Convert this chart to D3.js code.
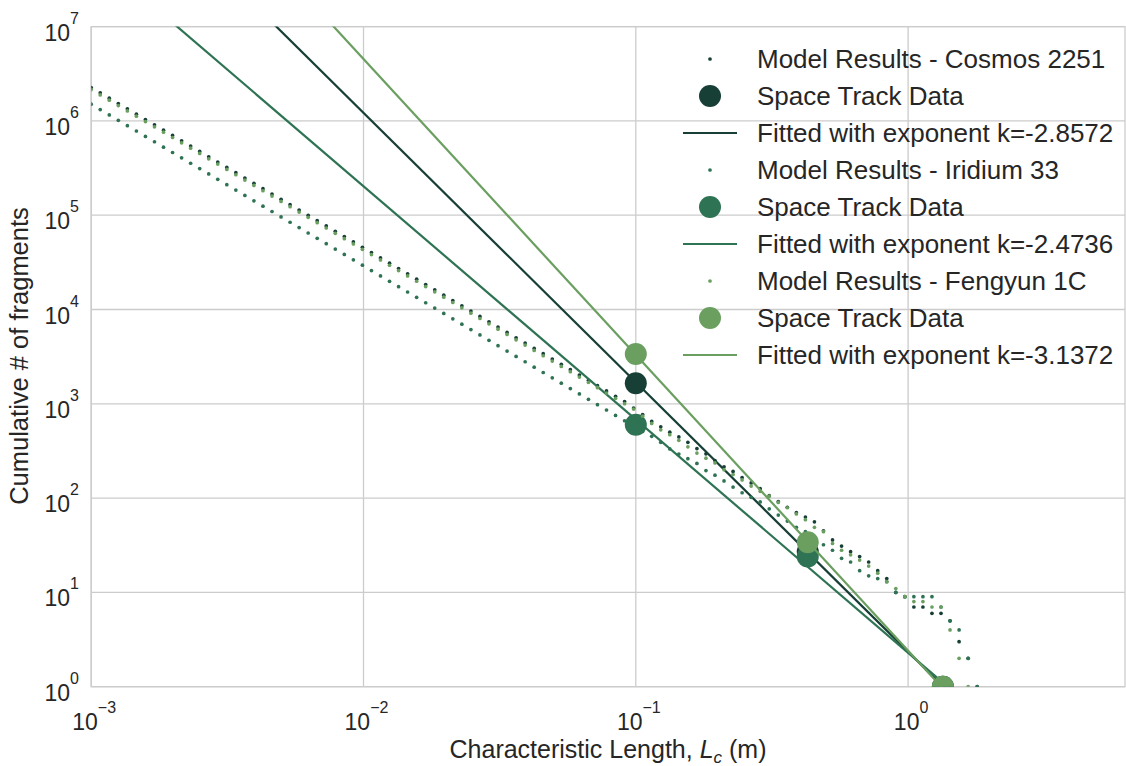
<!DOCTYPE html>
<html>
<head>
<meta charset="utf-8">
<script src="https://cdn.jsdelivr.net/npm/d3@7"></script>
<style>
  body { margin: 0; background: #ffffff; }
  text { font-family: "Liberation Sans", Arial, sans-serif; fill: #262626; }
</style>
</head>
<body>
<svg id="chart" width="1126" height="766"></svg>
<script>
// Sample grid of characteristic lengths (log10 of Lc in metres)
const logLc = [
  -3.0000, -2.9668, -2.9336, -2.9004, -2.8672, -2.8340, -2.8008, -2.7676, -2.7344, -2.7012,
  -2.6680, -2.6348, -2.6016, -2.5684, -2.5352, -2.5020, -2.4688, -2.4356, -2.4024, -2.3692,
  -2.3360, -2.3028, -2.2696, -2.2364, -2.2032, -2.1700, -2.1368, -2.1036, -2.0704, -2.0372,
  -2.0040, -1.9708, -1.9376, -1.9044, -1.8712, -1.8380, -1.8048, -1.7716, -1.7384, -1.7052,
  -1.6720, -1.6388, -1.6056, -1.5724, -1.5392, -1.5060, -1.4728, -1.4396, -1.4064, -1.3732,
  -1.3400, -1.3068, -1.2736, -1.2404, -1.2072, -1.1740, -1.1408, -1.1076, -1.0744, -1.0412,
  -1.0080, -0.9748, -0.9416, -0.9084, -0.8752, -0.8420, -0.8088, -0.7756, -0.7424, -0.7092,
  -0.6760, -0.6428, -0.6096, -0.5764, -0.5432, -0.5100, -0.4768, -0.4436, -0.4104, -0.3772,
  -0.3440, -0.3108, -0.2776, -0.2444, -0.2112, -0.1780, -0.1448, -0.1116, -0.0784, -0.0452,
  -0.0120,  0.0212,  0.0544,  0.0876,  0.1208,  0.1540,  0.1872,  0.2204,  0.2536
];

// Cumulative fragment counts from the breakup model
const cosmosModel = [
  2258000, 1983000, 1741000, 1529000, 1343000, 1179000, 1035000, 909000, 798000, 701000,
  615500, 540700, 474600, 416900, 365900, 321400, 282300, 247800, 217600, 191100,
  167800, 147300, 129400, 113600, 99730, 87590, 76910, 67540, 59300, 52070,
  45730, 40150, 35260, 30960, 27180, 23870, 20960, 18410, 16160, 14200,
  12460, 10950, 9612, 8441, 7412, 6509, 5715, 5018, 4406, 3870,
  3398, 2984, 2620, 2301, 2020, 1774, 1558, 1368, 1201, 1055,
  900, 770, 650, 570, 500, 445, 390, 335, 295, 250,
  215, 192, 165, 145, 126, 106, 92, 80, 70, 63,
  56, 45, 36, 31, 27, 24, 21, 17, 14, 10,
  9, 7, 7, 6, 6, 5, 3, 2, 1
];
const iridiumModel = [
  1503000, 1319000, 1157000, 1015000, 890000, 781000, 685000, 601000, 527000, 462000,
  405500, 355700, 312000, 273700, 240100, 210600, 184800, 162100, 142200, 124700,
  109400, 95960, 84180, 73840, 64770, 56820, 49840, 43720, 38350, 33640,
  29510, 25890, 22710, 19920, 17470, 15330, 13450, 11790, 10350, 9077,
  7962, 6984, 6126, 5374, 4714, 4135, 3627, 3182, 2791, 2448,
  2148, 1884, 1653, 1450, 1272, 1116, 979, 859, 753, 661,
  579, 510, 452, 390, 332, 293, 262, 233, 196, 175,
  152, 131, 114, 102, 91, 77, 66, 57, 49, 44,
  38, 32, 28, 23, 21, 17, 15, 14, 13, 10,
  9, 9, 9, 9, 7, 5, 4, 2, 1
];
const fengyunModel = [
  2148000, 1887000, 1657000, 1455000, 1277000, 1121000, 984800, 864800, 759500, 666900,
  585500, 514300, 451400, 396500, 348100, 305800, 268500, 235800, 207000, 181700,
  159600, 140100, 123000, 108000, 94870, 83310, 73150, 64240, 56400, 49530,
  43490, 38190, 33540, 29450, 25860, 22710, 19940, 17510, 15380, 13500,
  11860, 10410, 9144, 8029, 7050, 6191, 5437, 4774, 4192, 3682,
  3232, 2838, 2492, 2189, 1922, 1688, 1482, 1302, 1143, 1003,
  880, 740, 620, 530, 470, 410, 350, 300, 265, 236,
  200, 178, 156, 134, 118, 105, 90, 79, 68, 59,
  49, 44, 33, 28, 25, 22, 19, 16, 13, 11,
  9, 8, 8, 7, 7, 4, 2, 1
];

// Catalogued debris (Space Track)
const trackLc = [0.1, 0.428, 1.342];
const cosmosTrack = [1650, 27, 1];
const iridiumTrack = [600, 24, 1];
const fengyunTrack = [3370, 34, 1];

// Power-law fits N = C * Lc^k
const fitExponents = [-2.8572, -2.4736, -3.1372];
const fitCoefficients = [2.35, 2.29, 2.41];
const fitRange = [1e-3, 1.342];

const seriesNames = ["Cosmos 2251", "Iridium 33", "Fengyun 1C"];
const seriesColors = ["#173f36", "#2e7353", "#6a9f60"];

const xTicks = [1e-3, 1e-2, 1e-1, 1];
const yTicks = [1, 10, 100, 1e3, 1e4, 1e5, 1e6, 1e7];

const svg = d3.select("#chart");
const plotLeft = 91.2, plotRight = 1125, plotTop = 26.6, plotBottom = 686.7;

const x = d3.scaleLog().domain([1e-3, Math.pow(10, 0.7965)]).range([plotLeft, plotRight]);
const y = d3.scaleLog().domain([1, 1e7]).range([plotBottom, plotTop]);

const gridColor = "#cccccc";

// grid
const grid = svg.append("g");
grid.selectAll(".vx").data(xTicks).join("line")
  .attr("x1", d => x(d)).attr("x2", d => x(d))
  .attr("y1", plotTop).attr("y2", plotBottom)
  .attr("stroke", gridColor).attr("stroke-width", 1.3);
grid.selectAll(".hy").data(yTicks).join("line")
  .attr("x1", plotLeft).attr("x2", plotRight)
  .attr("y1", d => y(d)).attr("y2", d => y(d))
  .attr("stroke", gridColor).attr("stroke-width", 1.3);
svg.append("rect")
  .attr("x", plotLeft).attr("y", plotTop)
  .attr("width", plotRight - plotLeft).attr("height", plotBottom - plotTop)
  .attr("fill", "none").attr("stroke", gridColor).attr("stroke-width", 1.3);

// plot contents clipped to the axes box
svg.append("clipPath").attr("id", "plotClip")
  .append("rect").attr("x", plotLeft).attr("y", plotTop)
  .attr("width", plotRight - plotLeft).attr("height", plotBottom - plotTop);
const plot = svg.append("g").attr("clip-path", "url(#plotClip)");

const models = [cosmosModel, iridiumModel, fengyunModel];
const tracks = [cosmosTrack, iridiumTrack, fengyunTrack];

models.forEach((model, s) => {
  const pts = model.map((n, i) => ({ L: Math.pow(10, logLc[i]), N: n }));
  plot.append("g").selectAll("circle").data(pts).join("circle")
    .attr("cx", d => x(d.L)).attr("cy", d => y(d.N))
    .attr("r", 1.85).attr("fill", seriesColors[s]);

  const tr = tracks[s].map((n, i) => ({ L: trackLc[i], N: n }));
  plot.append("g").selectAll("circle").data(tr).join("circle")
    .attr("cx", d => x(d.L)).attr("cy", d => y(d.N))
    .attr("r", 11).attr("fill", seriesColors[s]);

  const fit = fitRange.map(L => ({ L, N: fitCoefficients[s] * Math.pow(L, fitExponents[s]) }));
  plot.append("path")
    .attr("d", d3.line().x(d => x(d.L)).y(d => y(d.N))(fit))
    .attr("fill", "none").attr("stroke", seriesColors[s]).attr("stroke-width", 2.2);
});

// tick labels as 10^n
const expOf = v => {
  const e = Math.round(Math.log10(v));
  return e < 0 ? "\u2212" + (-e) : String(e);
};
const yl = svg.append("g");
yTicks.forEach(t => {
  const tx = yl.append("text").attr("x", 79).attr("y", y(t) + 14)
    .attr("text-anchor", "end").style("font-size", "23px");
  tx.append("tspan").text("10");
  tx.append("tspan").attr("dy", -17).style("font-size", "16px").text(expOf(t));
});
const xl = svg.append("g");
xTicks.forEach(t => {
  const tx = xl.append("text").attr("x", x(t) + 3).attr("y", 730)
    .attr("text-anchor", "middle").style("font-size", "23px");
  tx.append("tspan").text("10");
  tx.append("tspan").attr("dy", -17).style("font-size", "16px").text(expOf(t));
});

// axis titles
const xt = svg.append("text").attr("x", 608).attr("y", 758)
  .attr("text-anchor", "middle").style("font-size", "25px");
xt.append("tspan").text("Characteristic Length, ");
xt.append("tspan").style("font-style", "italic").text("L");
xt.append("tspan").style("font-style", "italic").style("font-size", "17px").attr("dy", 5).text("c");
xt.append("tspan").attr("dy", -5).text(" (m)");

svg.append("text")
  .attr("transform", "translate(28,356) rotate(-90)")
  .attr("text-anchor", "middle").style("font-size", "25.5px")
  .text("Cumulative # of fragments");

// legend
const legendRows = [];
seriesNames.forEach((name, s) => {
  legendRows.push({ kind: "dot", label: "Model Results - " + name, color: seriesColors[s] });
  legendRows.push({ kind: "circle", label: "Space Track Data", color: seriesColors[s] });
  legendRows.push({ kind: "line", label: "Fitted with exponent k=" + fitExponents[s].toFixed(4), color: seriesColors[s] });
});
const lg = svg.append("g");
legendRows.forEach((r, j) => {
  const cy = 59 + 37 * j;
  if (r.kind === "dot") {
    lg.append("circle").attr("cx", 710).attr("cy", cy).attr("r", 1.85).attr("fill", r.color);
  } else if (r.kind === "circle") {
    lg.append("circle").attr("cx", 710).attr("cy", cy).attr("r", 11).attr("fill", r.color);
  } else {
    lg.append("line").attr("x1", 683).attr("x2", 737).attr("y1", cy).attr("y2", cy)
      .attr("stroke", r.color).attr("stroke-width", 2.2);
  }
  lg.append("text").attr("x", 757).attr("y", cy + 9)
    .style("font-size", "26px").text(r.label);
});
</script>
</body>
</html>
